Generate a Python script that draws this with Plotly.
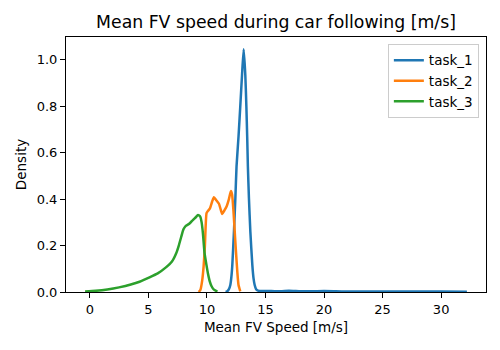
import plotly.graph_objects as go

title = "Mean FV speed during car following [m/s]"
x_label = "Mean FV Speed [m/s]"
y_label = "Density"
series_names = ["task_1", "task_2", "task_3"]
colors = ["#1f77b4", "#ff7f0e", "#2ca02c"]

task_1_x = [11.6, 11.74, 11.88, 12.0, 12.09, 12.17, 12.31, 12.43, 12.53, 12.7, 12.85, 13.0,
            13.14, 13.28, 13.37, 13.44, 13.5, 13.59, 13.71, 13.88, 13.98, 14.08, 14.2, 14.36,
            14.8, 15.5, 16.3, 17.0, 18.0, 19.0, 20.0, 21.0, 22.0, 24.0, 26.0, 28.0, 30.0, 32.2]
task_1_y = [0.0, 0.003, 0.012, 0.03, 0.065, 0.116, 0.26, 0.404, 0.54, 0.67, 0.8, 0.935,
            1.046, 0.935, 0.8, 0.67, 0.54, 0.404, 0.26, 0.116, 0.06, 0.03, 0.012, 0.006,
            0.004, 0.004, 0.003, 0.005, 0.003, 0.003, 0.004, 0.003, 0.002, 0.002, 0.002,
            0.002, 0.002, 0.001]

task_2_x = [9.3, 9.45, 9.6, 9.72, 9.83, 9.97, 10.1, 10.26, 10.45, 10.6, 10.8, 11.03, 11.18,
            11.31, 11.48, 11.68, 11.88, 12.05, 12.15, 12.28, 12.4, 12.5, 12.6, 12.7, 12.85]
task_2_y = [0.0, 0.01, 0.05, 0.11, 0.2, 0.34, 0.35, 0.36, 0.39, 0.408, 0.395, 0.38, 0.355,
            0.336, 0.35, 0.368, 0.4, 0.435, 0.42, 0.34, 0.24, 0.16, 0.085, 0.03, 0.003]

task_3_x = [-0.4, 0.5, 1.5, 2.5, 3.5, 4.25, 5.1, 5.8, 6.5, 7.0, 7.38, 7.6, 7.81, 8.0, 8.2,
            8.52, 8.8, 9.05, 9.24, 9.43, 9.55, 9.66, 9.8, 9.95, 10.09, 10.25, 10.4, 10.6, 10.9]
task_3_y = [0.002, 0.005, 0.011, 0.02, 0.032, 0.044, 0.063, 0.08, 0.106, 0.13, 0.167, 0.2,
            0.238, 0.27, 0.285, 0.295, 0.31, 0.322, 0.332, 0.325, 0.3, 0.253, 0.167, 0.12,
            0.08, 0.045, 0.025, 0.01, 0.002]

xs = [task_1_x, task_2_x, task_3_x]
ys = [task_1_y, task_2_y, task_3_y]

x_ticks = [0, 5, 10, 15, 20, 25, 30]
y_ticks = [0.0, 0.2, 0.4, 0.6, 0.8, 1.0]

FONT = "DejaVu Sans"
OFF = 8  # page body margin in the browser

fig = go.Figure()
for name, c, x, y in zip(series_names, colors, xs, ys):
    fig.add_trace(go.Scatter(x=x, y=y, mode="lines", name=name,
                             line=dict(color=c, width=2.5, shape="spline", smoothing=0.5)))

axis_common = dict(showline=True, linecolor="black", linewidth=1, mirror=True,
                   ticks="outside", ticklen=5, tickwidth=1, tickcolor="black",
                   showgrid=False, zeroline=False, automargin=False,
                   tickfont=dict(family=FONT, size=13, color="black"))

W, H = 500 - OFF, 350 - OFF
fig.update_layout(
    width=W, height=H,
    margin=dict(l=66 - OFF, r=14, t=37 - OFF, b=58),
    paper_bgcolor="white", plot_bgcolor="white",
    font=dict(family=FONT, color="black"),
    title=dict(text=title, x=((66 + 486) / 2 - OFF) / W, xanchor="center",
               y=1 - (22 - OFF) / H, yanchor="middle", yref="container",
               font=dict(family=FONT, size=17.3, color="black")),
    xaxis=dict(range=[-2.03, 33.83], tickvals=x_ticks,
               title=dict(text=x_label, font=dict(family=FONT, size=13.5), standoff=6),
               **axis_common),
    yaxis=dict(range=[0, 1.0985], tickvals=y_ticks, tickformat=".1f",
               title=dict(text=y_label, font=dict(family=FONT, size=13.5), standoff=6),
               **axis_common),
    legend=dict(x=0.983, y=0.973, xanchor="right", yanchor="top",
                bgcolor="rgba(255,255,255,0.8)", bordercolor="#cccccc", borderwidth=1,
                font=dict(family=FONT, size=13.5, color="black"),
                tracegroupgap=0, itemwidth=30),
    showlegend=True,
)

fig.write_html("out.html")
